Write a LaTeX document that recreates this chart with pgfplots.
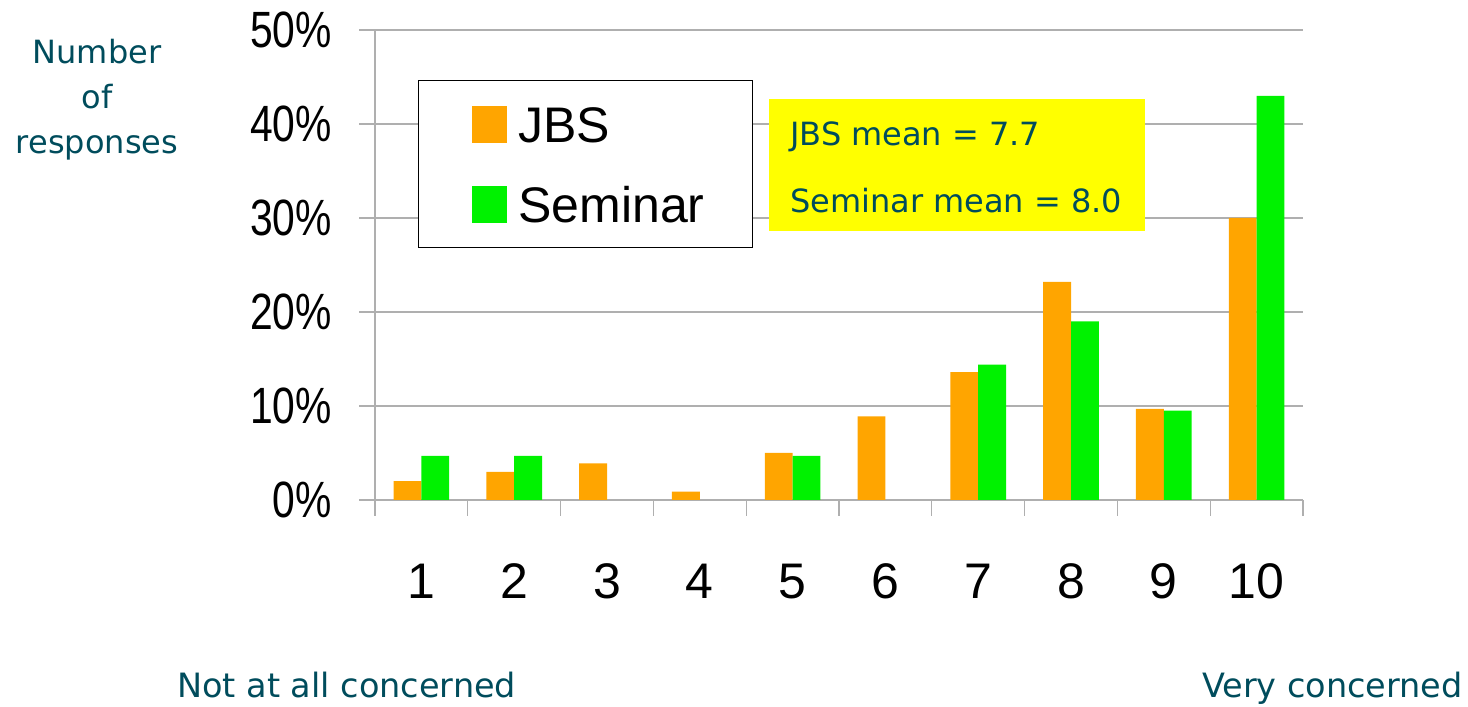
\documentclass[border=0pt]{standalone}
\usepackage{pgfplots}
\pgfplotsset{compat=1.18}
\usepackage{fontspec}
\setmainfont{Liberation Sans}
\newfontfamily\ytfont[FakeStretch=0.8]{Liberation Sans}
\newfontfamily\tealfont{DejaVu Sans}
\definecolor{tealc}{RGB}{0,76,92}
\definecolor{jbs}{RGB}{255,165,0}
\definecolor{sem}{RGB}{0,242,0}
\definecolor{gridc}{RGB}{175,175,175}
\definecolor{yel}{RGB}{255,255,0}
\begin{document}
\begin{tikzpicture}
\path[use as bounding box] (0,0) rectangle (1468pt,707pt);
\begin{axis}[
  at={(375pt,207pt)}, anchor=south west, scale only axis,
  width=928pt, height=470pt,
  xmin=0.5, xmax=10.5, ymin=0, ymax=50,
  ybar, bar width=0.3,
  axis lines*=left,
  axis line style={gridc, line width=1.3pt},
  tick align=outside, major tick length=16pt,
  tick style={gridc, line width=1.3pt},
  ytick={0,10,20,30,40,50},
  yticklabel={\pgfmathprintnumber[assume math mode=true]{\tick}\%},
  yticklabel style={font=\ytfont\fontsize{51}{51}\selectfont, inner sep=0pt, anchor=east, xshift=-27pt},
  ymajorgrids, grid style={gridc, line width=1.3pt},
  xtick={0.5,1.5,...,10.5},
  xticklabels={,,,,,,,,,,},
  extra x ticks={1,2,3,4,5,6,7,8,9,10},
  extra x tick labels={1,2,3,4,5,6,7,8,9,10},
  extra x tick style={major tick length=0pt, xticklabel style={font=\fontsize{50}{50}\selectfont, inner sep=0pt, anchor=base, yshift=-99pt}},
  legend style={at={(rel axis cs:0.0463,0.8936)}, anchor=north west, draw=black, line width=1pt, fill=white,
    inner xsep=54pt, inner ysep=25pt, row sep=43pt, column sep=11pt,
    font=\fontsize{50}{50}\selectfont,
    nodes={inner sep=0pt, text height=36pt, text depth=0pt, text width=180pt, align=left}},
  legend cell align=left,
  legend image code/.code={\fill[#1] (0pt,-18pt) rectangle (35pt,19pt);},
]
\addplot[fill=jbs, draw=none, bar shift=-0.15] coordinates {
(1,2.0) (2,3.0) (3,3.9) (4,0.9) (5,5.0) (6,8.9) (7,13.6) (8,23.2) (9,9.7) (10,30.0)};
\addplot[fill=sem, draw=none, bar shift=0.15] coordinates {
(1,4.7) (2,4.7) (5,4.7) (7,14.4) (8,19.0) (9,9.5) (10,43.0)};
\legend{JBS,Seminar}
\end{axis}
\fill[yel] (769pt,476pt) rectangle (1145pt,608pt);
\node[anchor=base west, inner sep=0pt, text=tealc, font=\tealfont\fontsize{32}{32}\selectfont] at (790pt,561pt) {JBS mean = 7.7};
\node[anchor=base west, inner sep=0pt, text=tealc, font=\tealfont\fontsize{32}{32}\selectfont] at (790pt,494pt) {Seminar mean = 8.0};
\node[align=center, inner sep=0pt, text=tealc, font=\tealfont\fontsize{32}{45}\selectfont] at (97pt,607pt) {Number\\of\\responses};
\node[anchor=base west, inner sep=0pt, text=tealc, font=\tealfont\fontsize{33.5}{34}\selectfont] at (177pt,9pt) {Not at all concerned};
\node[anchor=base east, inner sep=0pt, text=tealc, font=\tealfont\fontsize{33.5}{34}\selectfont] at (1463pt,9pt) {Very concerned};
\end{tikzpicture}
\end{document}
